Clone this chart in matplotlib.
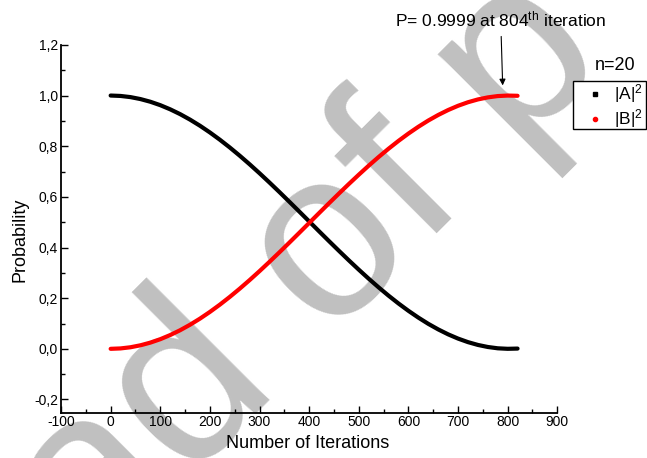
import matplotlib
matplotlib.use("Agg")
import matplotlib.pyplot as plt
from matplotlib.lines import Line2D
from matplotlib.patches import Rectangle
from matplotlib.ticker import MultipleLocator, FuncFormatter

plt.rcParams["font.family"] = ["Liberation Sans", "DejaVu Sans"]
plt.rcParams["mathtext.fontset"] = "custom"
plt.rcParams["mathtext.rm"] = "Liberation Sans"
plt.rcParams["mathtext.it"] = "Liberation Sans:italic"
plt.rcParams["axes.unicode_minus"] = False

# Grover search, n = 20 qubits: probabilities per iteration
iterations = list(range(0, 821, 20))
prob_b = [0.0000, 0.0016, 0.0062, 0.0139, 0.0245, 0.0380, 0.0544, 0.0734,
          0.0951, 0.1192, 0.1457, 0.1743, 0.2049, 0.2373, 0.2713, 0.3067,
          0.3433, 0.3808, 0.4191, 0.4578, 0.4968, 0.5359, 0.5747, 0.6130,
          0.6507, 0.6874, 0.7231, 0.7573, 0.7900, 0.8209, 0.8498, 0.8766,
          0.9012, 0.9232, 0.9427, 0.9595, 0.9735, 0.9846, 0.9927, 0.9979,
          0.9999, 0.9990]
prob_a = [1.0000, 0.9984, 0.9938, 0.9861, 0.9755, 0.9620, 0.9456, 0.9266,
          0.9049, 0.8808, 0.8543, 0.8257, 0.7951, 0.7627, 0.7287, 0.6933,
          0.6567, 0.6192, 0.5809, 0.5422, 0.5032, 0.4641, 0.4253, 0.3870,
          0.3493, 0.3126, 0.2769, 0.2427, 0.2100, 0.1791, 0.1502, 0.1234,
          0.0988, 0.0768, 0.0573, 0.0405, 0.0265, 0.0154, 0.0073, 0.0021,
          0.0001, 0.0010]
series_labels = ["|A|$^2$", "|B|$^2$"]
series_colors = ["black", "red"]
peak_iter = 804
peak_prob = 0.9999

W, H = 647, 458
fig = plt.figure(figsize=(W / 100, H / 100), dpi=100)
ax = fig.add_axes([0.0943, 0.099, 0.767, 0.803])
ax.set_facecolor("none")

# background watermark lettering
fig.text(94 / W, 1 - 577 / H, "ad of p", rotation=45, rotation_mode="anchor",
         ha="left", va="baseline", fontsize=172, color="#c0c0c0", zorder=-5)

ax.plot(iterations, prob_a, color=series_colors[0], lw=3.0, solid_capstyle="round", zorder=3)
ax.plot(iterations, prob_b, color=series_colors[1], lw=3.0, solid_capstyle="round", zorder=4)

ax.set_xlim(-100, 900)
ax.set_ylim(-0.252, 1.2)
ax.spines["top"].set_visible(False)
ax.spines["right"].set_visible(False)
for s in ("left", "bottom"):
    ax.spines[s].set_linewidth(1.3)

ax.xaxis.set_major_locator(MultipleLocator(100))
ax.xaxis.set_minor_locator(MultipleLocator(50))
ax.yaxis.set_major_locator(MultipleLocator(0.2))
ax.yaxis.set_minor_locator(MultipleLocator(0.1))
ax.yaxis.set_major_formatter(FuncFormatter(lambda v, p: f"{v:.1f}".replace(".", ",").replace("-0,0", "0,0")))
ax.tick_params(which="both", direction="in", labelsize=10, width=1)
ax.tick_params(which="major", length=5, pad=2)
ax.tick_params(which="minor", length=3)

ax.set_xlabel("Number of Iterations", fontsize=13)
ax.set_ylabel("Probability", fontsize=13)
ax.xaxis.set_label_coords(0.496, -0.084)
ax.xaxis.label.set_va("center")
ax.yaxis.set_label_coords(-0.083, 0.47)
ax.yaxis.label.set_va("center")

ax.annotate(f"P= {peak_prob}" + " at " + f"{peak_iter}" + r"$^{\rm th}$ iteration",
            xy=(790, 1.04), xytext=(786, 1.30), textcoords="data",
            ha="center", va="center", fontsize=12.5, annotation_clip=False,
            arrowprops=dict(arrowstyle="-|>", color="black", lw=0.8,
                            mutation_scale=9, shrinkA=3, shrinkB=0))

# legend box outside the plotting area
fig.add_artist(Rectangle((573 / W, 1 - 129 / H), 73 / W, 48 / H, transform=fig.transFigure,
                         facecolor="white", edgecolor="black", lw=1.0, zorder=5))
marker_styles = ["s", "o"]
row_y = [94, 119]
for lab, col, mk, ry in zip(series_labels, series_colors, marker_styles, row_y):
    fig.add_artist(Line2D([595 / W], [1 - ry / H], transform=fig.transFigure, marker=mk,
                          color=col, ls="", ms=2.6 if mk == "s" else 3.0, zorder=6))
    fig.text(614 / W, 1 - ry / H, lab, ha="left", va="center", fontsize=12.5, zorder=6)
fig.text(615 / W, 1 - 65 / H, "n=20", ha="center", va="center", fontsize=13)

fig.savefig("out.png", dpi=100)
